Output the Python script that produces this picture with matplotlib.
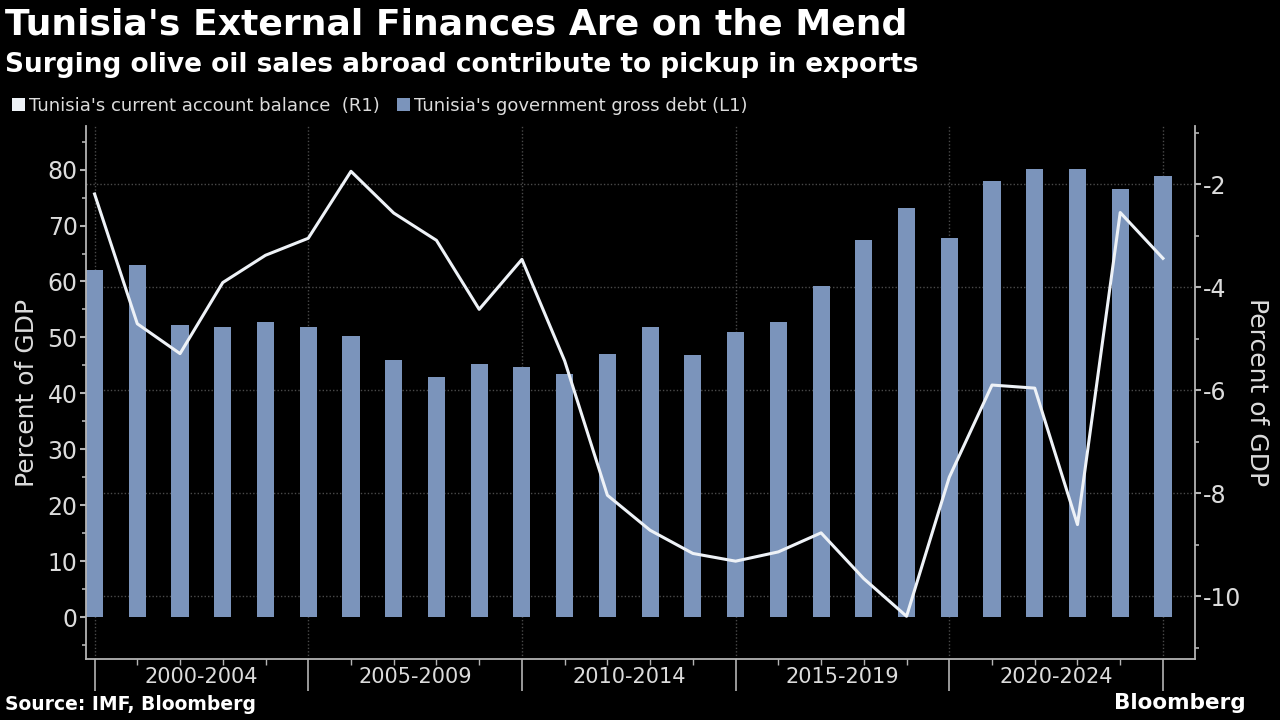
import matplotlib
matplotlib.use('Agg')
import matplotlib.pyplot as plt
from matplotlib.patches import Patch
from matplotlib.ticker import MultipleLocator

plt.rcParams['font.family'] = ['DejaVu Sans']
plt.rcParams['axes.unicode_minus'] = False

# data
years = list(range(2000, 2026))
gov_debt = [62.1, 62.9, 52.2, 51.9, 52.7, 51.8, 50.3, 45.9, 42.9, 45.2,
            44.7, 43.5, 47.0, 51.9, 46.9, 51.0, 52.8, 59.2, 67.4, 73.2,
            67.8, 78.0, 80.1, 80.1, 76.6, 78.8]
current_account = [-2.19, -4.71, -5.29, -3.91, -3.38, -3.05, -1.75, -2.56, -3.09, -4.43,
                   -3.46, -5.43, -8.04, -8.72, -9.17, -9.32, -9.14, -8.77, -9.66, -10.39,
                   -7.69, -5.90, -5.96, -8.61, -2.55, -3.44]
group_edges = [2000, 2005, 2010, 2015, 2020, 2025]
group_labels = ['2000-2004', '2005-2009', '2010-2014', '2015-2019', '2020-2024']

bg = 'black'
bar_color = '#7b94bb'
line_color = '#eef2f7'
axis_color = '#b4b4b4'
text_color = '#dcdcdc'
grid_color = '#4a4a4a'

fig = plt.figure(figsize=(12.8, 7.2), dpi=100, facecolor=bg)
ax = fig.add_axes([0.0672, 0.0847, 0.8664, 0.7403])
ax.set_facecolor(bg)
ax2 = ax.twinx()

ax.bar(years, gov_debt, width=0.4, color=bar_color, zorder=2)
ax2.plot(years, current_account, color=line_color, lw=2.2, zorder=3)

ax.set_xlim(1999.8, 2025.75)
ax.set_ylim(-7.5, 87.8)
ax2.set_ylim(-11.22, -0.87)

# spines
for a in (ax, ax2):
    a.spines['top'].set_visible(False)
    for s in ('left', 'right', 'bottom'):
        a.spines[s].set_color(axis_color)
        a.spines[s].set_linewidth(1.3)
ax.spines['right'].set_visible(False)
ax2.spines['left'].set_visible(False)
ax2.spines['bottom'].set_visible(False)

# left axis ticks
ax.set_yticks(range(0, 81, 10))
ax.yaxis.set_minor_locator(MultipleLocator(5))
ax.tick_params(axis='y', which='major', colors=axis_color, labelcolor=text_color,
               labelsize=17, length=4, width=1.5, pad=2)
ax.tick_params(axis='y', which='minor', colors=axis_color, length=3, width=1.2)

# right axis ticks
ax2.set_yticks([-10, -8, -6, -4, -2])
ax2.yaxis.set_minor_locator(MultipleLocator(1))
ax2.tick_params(axis='y', which='major', colors=axis_color, labelcolor=text_color,
                labelsize=17, length=4, width=1.5, pad=2)
ax2.tick_params(axis='y', which='minor', colors=axis_color, length=3, width=1.2)

# x axis: long ticks at group edges, short ticks each year
ax.set_xticks(group_edges)
ax.set_xticklabels([])
ax.set_xticks(years, minor=True)
ax.tick_params(axis='x', which='major', colors=axis_color, length=23, width=1.2)
ax.tick_params(axis='x', which='minor', colors=axis_color, length=4, width=1.0)
for i, lab in enumerate(group_labels):
    mid = (group_edges[i] + group_edges[i + 1]) / 2
    ax.text(mid, -0.034, lab, transform=ax.get_xaxis_transform(), ha='center', va='center',
            color=text_color, fontsize=15)

# grid: vertical at group edges, horizontal at right-axis ticks (behind bars)
ax.set_axisbelow(True)
ax.grid(axis='x', which='major', color=grid_color, linestyle=(0, (1, 1.5)), lw=1.0)
fig.canvas.draw()
for v in [-10, -8, -6, -4, -2]:
    y_left = ax.transData.inverted().transform(ax2.transData.transform((2000, v)))[1]
    ax.axhline(y_left, color=grid_color, linestyle=(0, (1, 1.5)), lw=1.0, zorder=0)

ax.set_ylabel('Percent of GDP', color=text_color, fontsize=18, labelpad=6)
ax2.set_ylabel('Percent of GDP', color=text_color, fontsize=18, rotation=270, labelpad=20)

# titles
fig.text(0.004, 0.990, "Tunisia's External Finances Are on the Mend", ha='left', va='top',
         color='white', fontsize=26, fontweight='bold')
fig.text(0.004, 0.928, "Surging olive oil sales abroad contribute to pickup in exports", ha='left',
         va='top', color='white', fontsize=19, fontweight='bold')

handles = [Patch(facecolor=line_color, edgecolor='none'), Patch(facecolor=bar_color, edgecolor='none')]
labels = ["Tunisia's current account balance  (R1)", "Tunisia's government gross debt (L1)"]
fig.legend(handles, labels, loc='center left', bbox_to_anchor=(-0.003, 0.853), ncol=2,
           frameon=False, fontsize=13, handlelength=0.7, handleheight=0.7,
           handletextpad=0.2, columnspacing=1.0, labelcolor=text_color)

fig.text(0.004, 0.022, 'Source: IMF, Bloomberg', ha='left', va='center', color='white',
         fontsize=13.5, fontweight='bold')
fig.text(0.973, 0.024, 'Bloomberg', ha='right', va='center', color='white',
         fontsize=15.5, fontweight='bold')

fig.savefig('out.png', dpi=100, facecolor=bg)
